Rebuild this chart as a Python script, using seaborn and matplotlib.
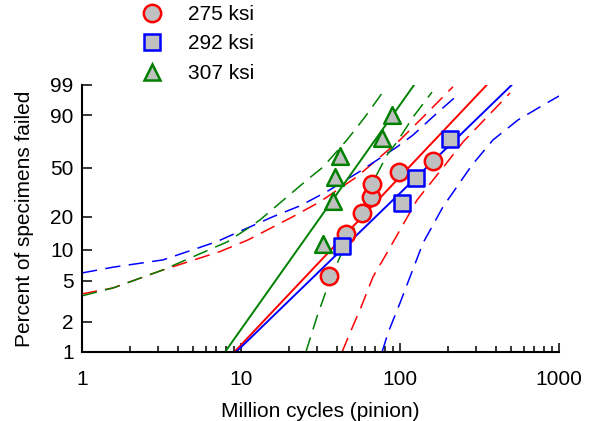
import numpy as np
import pandas as pd
import matplotlib
matplotlib.use('Agg')
import matplotlib.pyplot as plt
import seaborn as sns
from matplotlib.lines import Line2D
from matplotlib.ticker import FixedLocator, NullLocator, FixedFormatter

# failures: million cycles / percent failed
cyc_275 = [35.9, 45.7, 57.7, 65.7, 66.7, 99.1, 161]
pct_275 = [5.6, 13.9, 21.8, 29.9, 37.8, 46.3, 55.6]
cyc_292 = [43.0, 103, 126, 206]
pct_292 = [10.9, 26.5, 42.3, 73.5]
cyc_307 = [32.9, 38.0, 39.0, 42.0, 77.4, 89.1]
pct_307 = [11.3, 27.5, 43.0, 59.5, 74.5, 90.1]

# weibull fit lines (ends at 1% and 99%)
fit_pct = [1, 99]
fit_275 = [9.08, 351]
fit_292 = [9.3, 504]
fit_307 = [7.93, 122.5]

# confidence bounds (dashed)
lo_275_x = [1, 1.57, 3.23, 7.38, 11.07, 21.2, 31.4, 53.7, 100, 139.6, 215.4]
lo_275_y = [3.74, 4.28, 6.4, 9.58, 12.33, 20.1, 27.1, 43.0, 72.9, 89.0, 98.8]
hi_275_x = [43.2, 48.5, 56, 67.6, 82.8, 100, 127.9, 191.9, 249, 352, 491.8]
hi_275_y = [1, 1.55, 2.61, 5.48, 9.31, 15.25, 28.0, 52.0, 71.2, 89.0, 97.84]

lo_292_x = [1, 1.57, 3.23, 7.06, 10.3, 15.9, 23.5, 34.7, 56.0, 95.7, 120.8, 170.9, 238.4]
lo_292_y = [5.98, 6.8, 7.98, 11.9, 15.25, 20.1, 25.0, 32.9, 47.0, 67.1, 76.8, 91.1, 97.84]
hi_292_x = [77.1, 84.1, 100, 115.6, 139.6, 186.3, 283.6, 384.5, 552, 793, 1000]
hi_292_y = [1, 1.55, 3.05, 5.48, 11.56, 24.5, 52.0, 72.9, 87.3, 94.5, 97.2]

lo_307_x = [1, 1.57, 3.23, 8.17, 11.39, 13.16, 19.46, 26.0, 32.8, 46.4, 60.2, 77.1]
lo_307_y = [3.58, 4.28, 6.4, 11.8, 16.25, 18.8, 29.7, 40.6, 50.4, 72.9, 89.0, 97.8]
hi_307_x = [25.6, 30.06, 36.3, 42.0, 48.5, 56.0, 62.0, 69.6, 82.8, 95.7, 120.8, 158.9]
hi_307_y = [1, 2.24, 5.12, 8.58, 13.2, 20.1, 30.9, 42.0, 60.3, 71.2, 89.0, 98.0]

labels = ['275 ksi', '292 ksi', '307 ksi']
colors = ['#ff0000', '#0000ff', '#008000']
markers = ['o', 's', '^']
msizes = [12.5, 11, 12]

y_ticks = [1, 2, 5, 10, 20, 50, 90, 99]
x_ticks = [1, 10, 100, 1000]


def weibull_fwd(p):
    p = np.clip(np.asarray(p, dtype=float), 1e-6, 100 - 1e-9)
    return np.log(-np.log(1 - p / 100.0))


def weibull_inv(w):
    return 100.0 * (1 - np.exp(-np.exp(w)))


sns.set_style('ticks')
plt.rcParams['font.family'] = ['Liberation Sans', 'DejaVu Sans']
plt.rcParams['font.size'] = 15
plt.rcParams['text.color'] = 'black'
plt.rcParams['axes.labelcolor'] = 'black'
plt.rcParams['xtick.color'] = 'black'
plt.rcParams['ytick.color'] = 'black'
plt.rcParams['axes.edgecolor'] = 'black'

fig = plt.figure(figsize=(5.93, 4.21), dpi=100)
ax = fig.add_axes([0.1383, 0.1639, 0.8044, 0.6342])

dash = (0, (10, 5.5))
groups = [
    (cyc_275, pct_275, fit_275, lo_275_x, lo_275_y, hi_275_x, hi_275_y),
    (cyc_292, pct_292, fit_292, lo_292_x, lo_292_y, hi_292_x, hi_292_y),
    (cyc_307, pct_307, fit_307, lo_307_x, lo_307_y, hi_307_x, hi_307_y),
]

for i, (cx, cy, fx, lx, ly, hx, hy) in enumerate(groups):
    c = colors[i]
    sns.lineplot(x=fx, y=fit_pct, ax=ax, color=c, lw=1.4, estimator=None, sort=False, zorder=2)
    sns.lineplot(x=lx, y=ly, ax=ax, color=c, lw=1.1, linestyle=dash, estimator=None, sort=False, zorder=2)
    sns.lineplot(x=hx, y=hy, ax=ax, color=c, lw=1.1, linestyle=dash, estimator=None, sort=False, zorder=2)

for i, (cx, cy, *_rest) in enumerate(groups):
    df = pd.DataFrame({'cycles': cx, 'pct': cy})
    sns.scatterplot(data=df, x='cycles', y='pct', ax=ax, marker=markers[i],
                    s=msizes[i] ** 2, color='#c0c0c0', edgecolor=colors[i],
                    linewidth=1.8, zorder=4)

ax.set_xscale('log')
ax.set_yscale('function', functions=(weibull_fwd, weibull_inv))
ax.set_xlim(1, 1000)
ax.set_ylim(1, 99)

ax.yaxis.set_major_locator(FixedLocator(y_ticks))
ax.yaxis.set_major_formatter(FixedFormatter([str(t) for t in y_ticks]))
ax.yaxis.set_minor_locator(NullLocator())
ax.xaxis.set_major_locator(FixedLocator(x_ticks))
ax.xaxis.set_major_formatter(FixedFormatter([str(t) for t in x_ticks]))

ax.tick_params(axis='x', which='major', direction='in', length=6.5, width=1.1, pad=13, labelsize=15)
ax.tick_params(axis='x', which='minor', direction='in', length=4.3, width=1.1)
ax.tick_params(axis='y', which='major', direction='in', length=7, width=1.1, pad=6, labelsize=15)

sns.despine(ax=ax)
for s in ['left', 'bottom']:
    ax.spines[s].set_linewidth(1.5)

ax.set_xlabel('Million cycles (pinion)', fontsize=15, labelpad=9)
ax.set_ylabel('Percent of specimens failed', fontsize=15, labelpad=12)

handles = [Line2D([], [], linestyle='none', marker=markers[i], markersize=msizes[i],
                  markerfacecolor='#c0c0c0', markeredgecolor=colors[i],
                  markeredgewidth=1.8) for i in range(3)]
fig.legend(handles, labels, loc='upper left', bbox_to_anchor=(142 / 593, 1 - 5 / 421),
           frameon=False, fontsize=15, handlelength=0.95, handletextpad=1.25,
           labelspacing=0.5, borderpad=0, borderaxespad=0)

fig.savefig('out.png', dpi=100)
